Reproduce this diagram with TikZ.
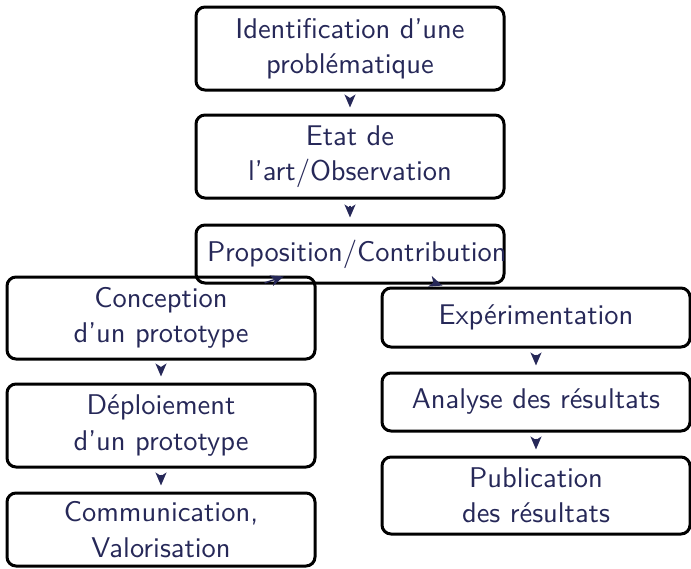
\documentclass[tikz,border=0pt]{standalone}
\usetikzlibrary{arrows.meta}
\usepackage{fontspec}
\newfontfamily\lmsten[Ligatures=TeX]{lmsans10-regular.otf}
\definecolor{txt}{RGB}{38,40,88}
\begin{document}
\begin{tikzpicture}[x=1pt,y=-1pt,
  box/.style={draw=black, line width=3pt, rounded corners=9pt,
    inner xsep=11pt, inner ysep=2pt, text width=286pt, align=center,
    text=txt, font=\lmsten\fontsize{28.5}{35.5}\selectfont},
  arr/.style={-{Stealth[length=13pt,width=11pt,inset=3.5pt]}, draw=txt, fill=txt, line width=1.4pt},
  varr/.style={arr, shorten <=6pt, shorten >=6pt},
  darr/.style={arr, shorten <=5pt, shorten >=3pt}]
\useasboundingbox (0,0) rectangle (691,568);
\node[box, minimum height=83pt] (A) at (350,48.5) {Identification d’une\\probl\'ematique};
\node[box, minimum height=83pt] (B) at (350,156.5) {Etat de\\l’art/Observation};
\node[box, minimum height=58pt] (C) at (350,254) {Proposition/Contribution};
\node[box, minimum height=82pt] (D) at (161,318) {Conception\\d’un prototype};
\node[box, minimum height=83pt] (E) at (161,425.5) {D\'eploiement\\d’un prototype};
\node[box, minimum height=73pt] (F) at (161,529.5) {Communication,\\Valorisation};
\node[box, minimum height=59pt] (G) at (536,317.5) {Exp\'erimentation};
\node[box, minimum height=58pt] (H) at (536,402) {Analyse des r\'esultats};
\node[box, minimum height=77pt] (I) at (536,495.5) {Publication\\des r\'esultats};
\draw[varr] (A) -- (B);
\draw[varr] (B) -- (C);
\draw[darr] (C) -- (D);
\draw[darr] (C) -- (G);
\draw[varr] (D) -- (E);
\draw[varr] (E) -- (F);
\draw[varr] (G) -- (H);
\draw[varr] (H) -- (I);
\end{tikzpicture}
\end{document}
